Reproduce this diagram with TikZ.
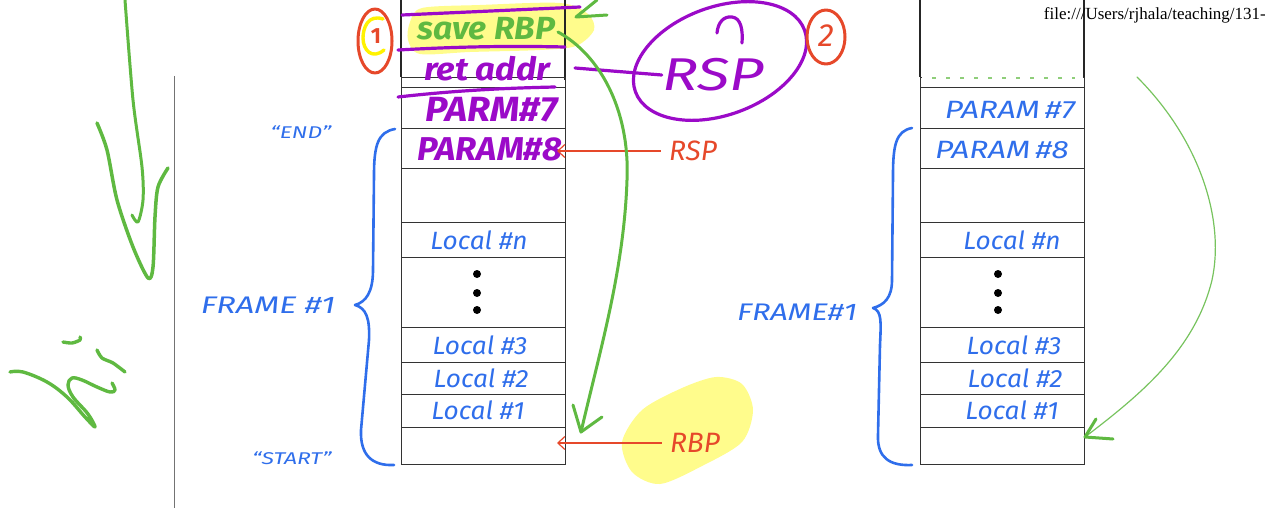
\documentclass[tikz,border=0pt]{standalone}
\usepackage{fontspec}
\setmainfont{Liberation Serif}
\setsansfont{Fira Sans}
\usetikzlibrary{arrows.meta}
\definecolor{hblue}{RGB}{47,110,235}
\definecolor{hpurple}{RGB}{155,10,200}
\definecolor{hgreen}{RGB}{95,185,65}
\definecolor{hred}{RGB}{230,72,42}
\definecolor{hyellow}{RGB}{255,252,140}
\begin{document}
\begin{tikzpicture}[x=1pt,y=-1pt,
  cell/.style={draw=black!80,line width=0.9pt,minimum width=164pt,inner sep=0pt,outer sep=0pt,anchor=north west},
  topcell/.style={minimum width=164pt,inner sep=0pt,outer sep=0pt,anchor=north west},
  bluetxt/.style={inner sep=0pt,text=hblue,font=\sffamily\itshape\fontsize{25}{25}\selectfont,xscale=1.05,transform shape},
  bluecap/.style={inner sep=0pt,text=hblue,font=\sffamily\itshape\fontsize{17}{17}\selectfont,xscale=1.35,transform shape},
  bluebig/.style={inner sep=0pt,text=hblue,font=\sffamily\itshape\fontsize{24}{24}\selectfont,xscale=1.35,transform shape},
  purtxt/.style={inner sep=0pt,text=hpurple,font=\sffamily\itshape\bfseries\fontsize{32}{32}\selectfont},
  redtxt/.style={inner sep=0pt,text=hred,font=\sffamily\itshape\fontsize{28}{28}\selectfont},
  gstroke/.style={draw=hgreen,line width=3pt,line cap=round,line join=round},
  thingreen/.style={draw=hgreen!85,line width=1.2pt,line cap=round,line join=round},
  pstroke/.style={draw=hpurple,line width=3.2pt,line cap=round,line join=round},
  rstroke/.style={draw=hred,line width=3pt,line cap=round,line join=round},
  bstroke/.style={draw=hblue,line width=2.6pt,line cap=round,line join=round},
  redarrow/.style={draw=hred,line width=1.2pt,-{Straight Barb[length=7pt,width=13pt,line width=1.2pt]}},
  stackdot/.style={fill=black}
]
\useasboundingbox (0,0) rectangle (1265,508);

% left gray rule
\draw[black!55,line width=1pt] (174,76) -- (174,508);

% highlight blobs (behind)
\fill[hyellow] plot[smooth cycle] coordinates {(410,22) (422,8) (480,5) (560,3) (588,14) (594,30) (576,46) (540,50) (470,52) (420,54) (408,40)};
\fill[hyellow] plot[smooth cycle] coordinates {(632,472) (622,442) (642,410) (682,388) (716,377) (742,384) (753,410) (742,442) (702,466) (660,484)};

% ---------- left stack ----------
\node[topcell,minimum height=84pt] (L0) at (401,-7) {};
\draw[black!85,line width=1.8pt] (L0.north west) -- (L0.south west) (L0.north east) -- ([yshift=-3pt]L0.south east);
\node[cell,minimum height=10pt] (L1) at (401,77) {};
\node[cell,minimum height=41pt] (L2) at (401,87) {};
\node[cell,minimum height=40pt] (L3) at (401,128) {};
\node[cell,minimum height=54pt] (L4) at (401,168) {};
\node[cell,minimum height=35pt] (L5) at (401,222) {};
\node[cell,minimum height=70pt] (L6) at (401,257) {};
\node[cell,minimum height=35pt] (L7) at (401,327) {};
\node[cell,minimum height=32pt] (L8) at (401,362) {};
\node[cell,minimum height=33pt] (L9) at (401,394) {};
\node[cell,minimum height=37pt] (L10) at (401,427) {};

% ---------- right stack ----------
\node[topcell,minimum height=84pt] (R0) at (920,-7) {};
\draw[black!85,line width=1.8pt] (R0.north west) -- (R0.south west) (R0.north east) -- (R0.south east);
\node[cell,minimum height=10pt] (R1) at (920,77) {};
\node[cell,minimum height=41pt] (R2) at (920,87) {};
\node[cell,minimum height=40pt] (R3) at (920,128) {};
\node[cell,minimum height=54pt] (R4) at (920,168) {};
\node[cell,minimum height=35pt] (R5) at (920,222) {};
\node[cell,minimum height=70pt] (R6) at (920,257) {};
\node[cell,minimum height=35pt] (R7) at (920,327) {};
\node[cell,minimum height=32pt] (R8) at (920,362) {};
\node[cell,minimum height=33pt] (R9) at (920,394) {};
\node[cell,minimum height=37pt] (R10) at (920,427) {};
\draw[white,line width=1.6pt] ([xshift=1.5pt]R1.north west) -- ([xshift=-1.5pt]R1.north east);
\draw[hgreen!70,line width=1.5pt,dash pattern=on 4pt off 10pt] (932,78) -- (1075,78);

% blue cell texts, left
\node[bluetxt] (lln) at (479,240) {Local \#n};
\node[bluetxt] (ll3) at (480,345) {Local \#3};
\node[bluetxt] (ll2) at (481,378) {Local \#2};
\node[bluetxt] (ll1) at (478,410) {Local \#1};
\fill[stackdot] (477,274) circle (4pt) (477,293) circle (4pt) (477,310) circle (4pt);
% blue cell texts, right
\node[bluetxt,xscale=1.2] (rp7) at (1010,110) {PARAM\,\#7};
\node[bluetxt,xscale=1.2] (rp8) at (1002,150) {PARAM\,\#8};
\node[bluetxt] (rln) at (1012,240) {Local \#n};
\node[bluetxt] (rl3) at (1014,345) {Local \#3};
\node[bluetxt] (rl2) at (1015,378) {Local \#2};
\node[bluetxt] (rl1) at (1012,410) {Local \#1};
\fill[stackdot] (998,274) circle (4pt) (998,293) circle (4pt) (998,310) circle (4pt);

% braces and labels
\draw[bstroke] (395,129) .. controls (378,132) and (374,145) .. (374,175) -- (373,270) .. controls (373,292) and (366,302) .. (355,305) .. controls (366,308) and (370,318) .. (369,340) -- (361,430) .. controls (360,455) and (372,466) .. (394,465);
\draw[bstroke] (912,128) .. controls (896,131) and (893,145) .. (893,175) -- (892,280) .. controls (892,298) and (884,305) .. (873,308) .. controls (882,311) and (881,322) .. (880,345) -- (878,435) .. controls (877,458) and (890,466) .. (912,465);
\node[bluebig] (lframe) at (268,305) {FRAME \#1};
\node[bluebig,xscale=0.95] (rframe) at (797,312) {FRAME\#1};
\node[bluecap] (lend) at (301,132) {``END''};
\node[bluecap] (lstart) at (292,458) {``START''};

% purple / green annotations on left stack
\draw[pstroke] (402,15) -- (580,7);
\draw[pstroke] (398,50) .. controls (470,46) and (520,46) .. (565,47);
\draw[pstroke] (398,97) .. controls (460,90) and (510,88) .. (555,87);
\node[purtxt,text=hgreen,xscale=1.05,transform shape] (save) at (486,29) {save RBP};
\node[purtxt,xscale=1.08,transform shape] (ret) at (487,69) {ret addr};
\node[purtxt,font=\sffamily\itshape\bfseries\fontsize{35}{35}\selectfont,xscale=1.08,transform shape] (p7) at (492,110) {PARM\#7};
\node[purtxt,font=\sffamily\itshape\bfseries\fontsize{33}{33}\selectfont,xscale=1.05,transform shape] (p8) at (490,149) {PARAM\#8};

% green top arrowhead
\draw[gstroke] (597,0) -- (576,17) -- (607,15);

% big RSP ellipse
\draw[pstroke,rotate around={20:(720,61)}] (720,61) ellipse (90 and 54);
\draw[pstroke] (717,33) .. controls (718,22) and (724,16) .. (732,17) .. controls (741,18) and (743,30) .. (742,43);
\node[purtxt,font=\sffamily\itshape\fontsize{46}{46}\selectfont,xscale=1.3,transform shape] (bigrsp) at (713,75) {RSP};
\coordinate (retr) at (575,68);
\draw[pstroke] (retr) -- (bigrsp.west);

% red circled numbers
\draw[rstroke] (375,41) ellipse (17 and 32);
\draw[draw=yellow,line width=3.4pt,line cap=round] (383,19) .. controls (368,14) and (363,28) .. (363,38) .. controls (363,50) and (372,60) .. (384,50);
\node[inner sep=0pt,text=hred,font=\sffamily\bfseries\fontsize{22}{22}\selectfont] (one) at (376,36) {1};
\draw[rstroke] (826,37) ellipse (19 and 27);
\node[inner sep=0pt,text=hred,font=\sffamily\itshape\fontsize{32}{32}\selectfont] (two) at (826,36) {2};

% red pointers
\node[redtxt] (rsp) at (693,151) {RSP};
\node[redtxt] (rbp) at (695,443) {RBP};
\draw[redarrow] ([xshift=-8pt]rsp.west) -- ([xshift=-8pt]rsp.west -| L3.east);
\draw[redarrow] ([xshift=-8pt]rbp.west) -- ([xshift=-8pt]rbp.west -| L10.east);

% green arrow saved RBP -> old frame base
\coordinate (gtip) at (581,432);
\coordinate (gstart) at (558,32);
\draw[gstroke] (gstart) .. controls (600,55) and (630,110) .. (627,180) .. controls (624,270) and (600,350) .. (gtip);
\draw[gstroke] (573,405) -- (gtip) -- (602,417);

% right thin green arrow
\coordinate (rtip) at (1085,437);
\draw[thingreen] (1137,77) .. controls (1200,140) and (1225,220) .. (1212,280) .. controls (1195,350) and (1140,395) .. (rtip);
\draw[hgreen,line width=3pt,line cap=round,line join=round] (1096,419) -- (rtip) -- (1113,439);

% green hand-drawn arrow and "hi" on the left
\draw[gstroke] plot[smooth] coordinates {(125,0) (133,100) (142,167) (143,200) (138,222) (132,215)};
\draw[gstroke,line width=3.5pt] plot[smooth] coordinates {(97,123) (107,150) (117,200) (133,247) (148,278) (153,267) (155,217) (158,187) (168,168)};
\draw[gstroke,line width=3.4pt] plot[smooth,tension=0.6] coordinates {(10,372) (23,372) (47,382) (67,397) (85,417) (95,427) (88,414) (73,397) (68,385) (72,378) (82,380) (97,387) (110,392) (115,390) (112,383)};
\draw[gstroke,line width=3.4pt] plot[smooth] coordinates {(97,350) (102,358) (113,363) (125,372)};
\draw[gstroke,line width=3.4pt] plot[smooth] coordinates {(63,342) (72,343) (80,340) (80,337)};

% file path header
\node[anchor=base east,inner sep=0pt,font=\fontsize{17}{17}\selectfont] (path) at (1266,20) {file:///Users/rjhala/teaching/131-};
\end{tikzpicture}
\end{document}
